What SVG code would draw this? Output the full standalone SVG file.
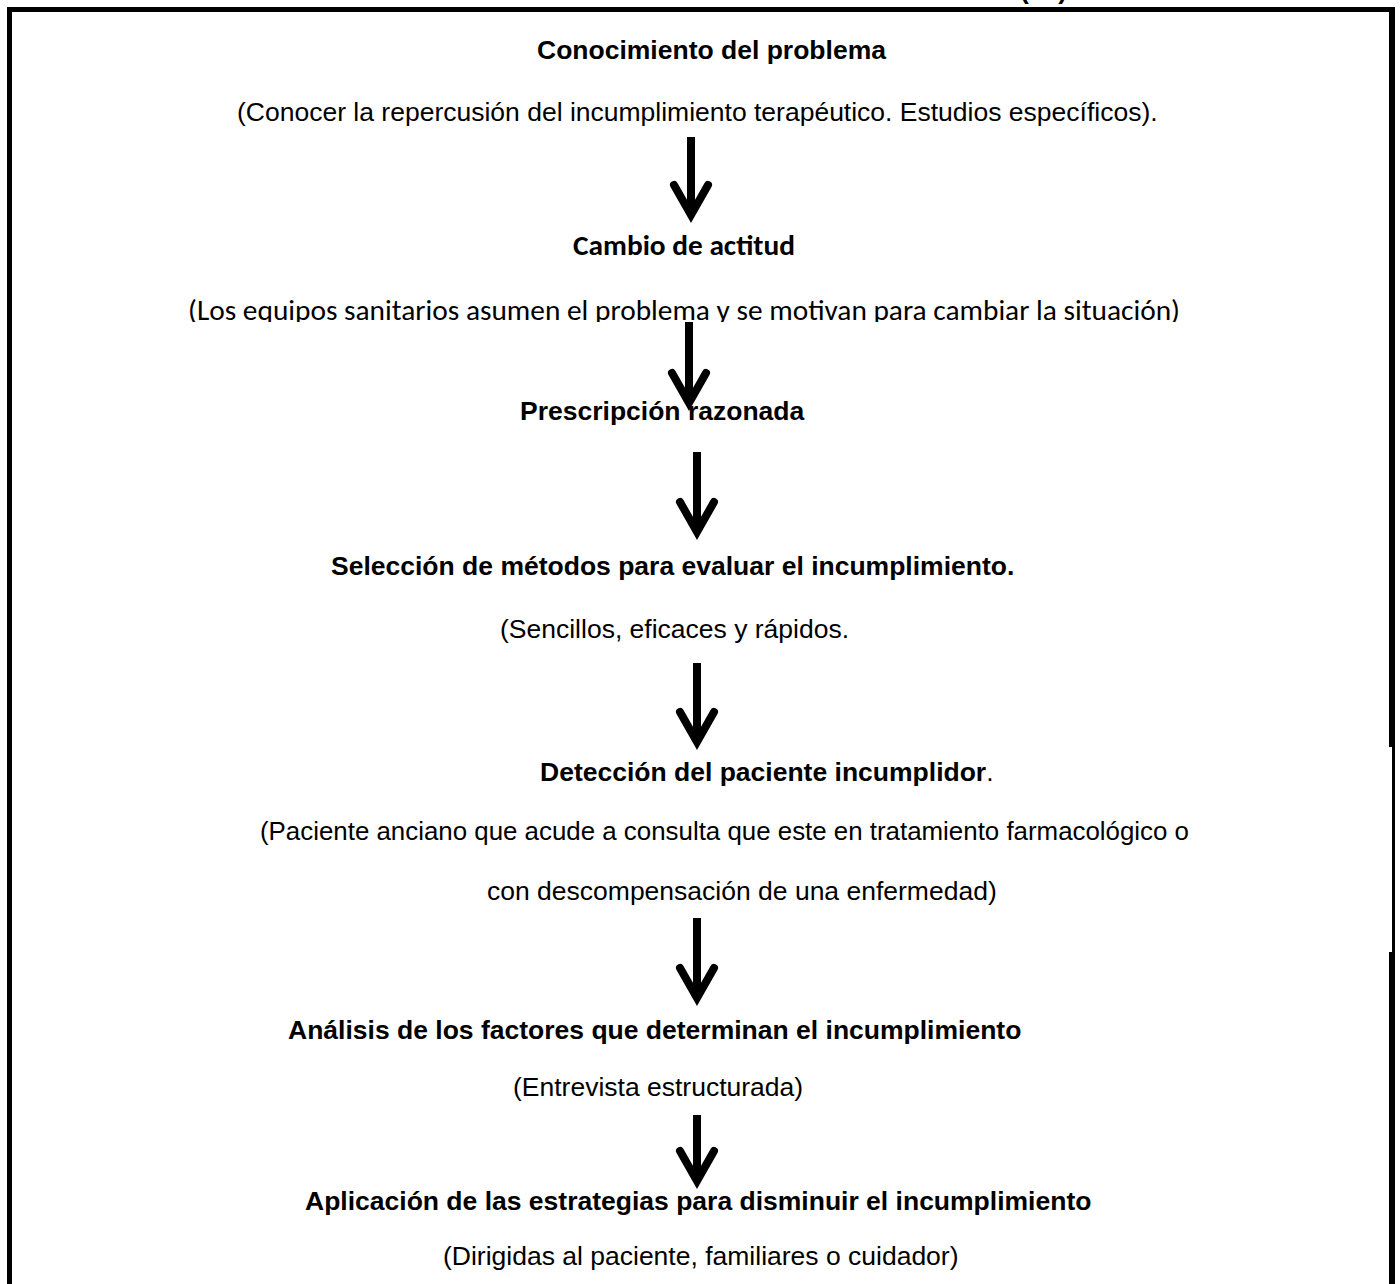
<svg xmlns="http://www.w3.org/2000/svg" width="1400" height="1284" viewBox="0 0 1400 1284">
<style>
.a{font-family:"Liberation Sans",Arial,sans-serif;font-size:26.5px;fill:#000}
.b{font-weight:bold}
.c{font-family:Carlito,Calibri,Lato,"Open Sans",sans-serif;font-size:29px;fill:#000}
.sh{stroke:#000;stroke-width:8;fill:none}
.hd{stroke:#000;stroke-width:8;fill:none;stroke-linecap:round;stroke-linejoin:miter}
</style>
<defs>
<clipPath id="clipLos"><rect x="0" y="280" width="1400" height="42"/></clipPath>
</defs>
<rect width="1400" height="1284" fill="#fff"/>
<g id="frame" fill="#000">
<rect x="7" y="7" width="1388" height="5"/>
<rect x="7" y="7" width="5" height="1277"/>
<rect x="1389" y="7" width="6" height="740"/>
<rect x="1392" y="747" width="3" height="205"/>
<rect x="1389" y="952" width="6" height="332"/>
</g>
<text class="a b" x="1020" y="-1.5" font-size="24">(16)</text>
<g id="n1"><text class="a b" x="537" y="59">Conocimiento del problema</text>
<text class="a" x="237" y="121">(Conocer la repercusión del incumplimiento terapéutico. Estudios específicos).</text></g>
<g id="n2"><text class="c b" x="573" y="255" textLength="222" lengthAdjust="spacingAndGlyphs">Cambio de actitud</text>
<text class="c" x="188" y="320" textLength="992" lengthAdjust="spacingAndGlyphs" clip-path="url(#clipLos)">(Los equipos sanitarios asumen el problema y se motivan para cambiar la situación)</text></g>
<g id="n3"><text class="a b" x="520" y="420">Prescripción razonada</text></g>
<g id="n4"><text class="a b" x="331" y="575">Selección de métodos para evaluar el incumplimiento.</text>
<text class="a" x="500" y="638">(Sencillos, eficaces y rápidos.</text></g>
<g id="n5"><text class="a" x="540" y="781"><tspan class="b">Detección del paciente incumplidor</tspan>.</text>
<text class="a" x="260" y="840" textLength="929" lengthAdjust="spacingAndGlyphs">(Paciente anciano que acude a consulta que este en tratamiento farmacológico o</text>
<text class="a" x="487" y="900">con descompensación de una enfermedad)</text></g>
<g id="n6"><text class="a b" x="288" y="1039">Análisis de los factores que determinan el incumplimiento</text>
<text class="a" x="513" y="1096">(Entrevista estructurada)</text></g>
<g id="n7"><text class="a b" x="305" y="1210">Aplicación de las estrategias para disminuir el incumplimiento</text>
<text class="a" x="443" y="1265">(Dirigidas al paciente, familiares o cuidador)</text></g>
<g id="connectors">
<line class="sh" x1="691" y1="137" x2="691" y2="213"/><polyline class="hd" points="674,185 691,215 708,185"/>
<line class="sh" x1="689" y1="322" x2="689" y2="402"/><polyline class="hd" points="672,373 689,403 706,373"/>
<line class="sh" x1="697" y1="452" x2="697" y2="531"/><polyline class="hd" points="680,502 697,532 714,502"/>
<line class="sh" x1="697" y1="663" x2="697" y2="741"/><polyline class="hd" points="680,712 697,742 714,712"/>
<line class="sh" x1="697" y1="918" x2="697" y2="997"/><polyline class="hd" points="680,968 697,998 714,968"/>
<line class="sh" x1="697" y1="1115" x2="697" y2="1180"/><polyline class="hd" points="680,1151 697,1181 714,1151"/>
</g>
</svg>
